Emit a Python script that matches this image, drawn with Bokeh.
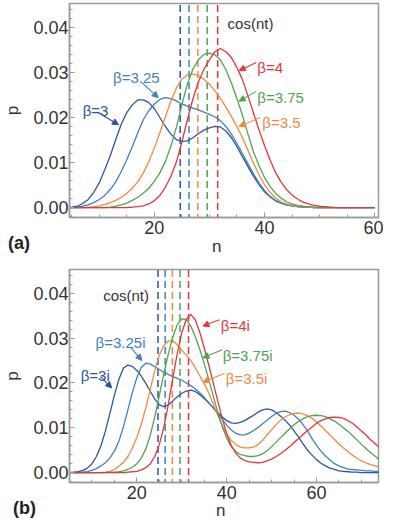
from bokeh.plotting import figure
from bokeh.layouts import column
from bokeh.models import (Range1d, SingleIntervalTicker, PrintfTickFormatter,
                          Label, Arrow, NormalHead, Div)
from bokeh.embed import file_html
from bokeh.resources import INLINE

# ---------------- data ----------------
# panel (a): real beta
n_a = list(range(4, 61))
a_b300 = [0, 0.0001, 0.0003, 0.0009, 0.0018, 0.0034, 0.0055, 0.0084, 0.0115, 0.0151,
          0.0185, 0.0211, 0.0228, 0.0239, 0.0239, 0.0233, 0.0220, 0.0200, 0.0180, 0.0163,
          0.0151, 0.0147, 0.0148, 0.0155, 0.0164, 0.0172, 0.0177, 0.0180, 0.0179, 0.0170,
          0.0155, 0.0135, 0.0113, 0.0091, 0.0070, 0.0051, 0.0035, 0.0024, 0.0015, 0.0010,
          0.0006, 0.0004, 0.0002, 0.0001, 0.0001] + [0] * 12
a_b325 = [0, 0, 0.0001, 0.0003, 0.0006, 0.0011, 0.0018, 0.0027, 0.0040, 0.0057,
          0.0080, 0.0106, 0.0135, 0.0166, 0.0195, 0.0215, 0.0230, 0.0240, 0.0244, 0.0242,
          0.0237, 0.0230, 0.0225, 0.0221, 0.0217, 0.0212, 0.0207, 0.0201, 0.0193, 0.0180,
          0.0163, 0.0142, 0.0120, 0.0097, 0.0075, 0.0055, 0.0038, 0.0025, 0.0016, 0.0010,
          0.0006, 0.0004, 0.0002, 0.0001, 0.0001] + [0] * 12
a_b350 = [0, 0, 0, 0, 0.0001, 0.0002, 0.0004, 0.0007, 0.0011, 0.0016,
          0.0023, 0.0032, 0.0043, 0.0057, 0.0077, 0.0102, 0.0132, 0.0166, 0.0201, 0.0236,
          0.0265, 0.0285, 0.0295, 0.0297, 0.0293, 0.0285, 0.0274, 0.0259, 0.0242, 0.0223,
          0.0202, 0.0180, 0.0155, 0.0127, 0.0099, 0.0073, 0.0051, 0.0034, 0.0022, 0.0013,
          0.0008, 0.0005, 0.0003, 0.0002, 0.0001] + [0] * 12
a_b375 = [0] * 8 + [0.0001, 0.0003, 0.0006, 0.0010, 0.0016, 0.0023, 0.0032, 0.0043,
          0.0058, 0.0077, 0.0102, 0.0136, 0.0178, 0.0228, 0.0274, 0.0307, 0.0328, 0.0340,
          0.0343, 0.0339, 0.0328, 0.0306, 0.0276, 0.0242, 0.0205, 0.0163, 0.0124, 0.0093,
          0.0067, 0.0047, 0.0032, 0.0021, 0.0013, 0.0008, 0.0005, 0.0003, 0.0002,
          0.0001] + [0] * 11
a_b400 = [0] * 12 + [0.0001, 0.0002, 0.0004, 0.0008, 0.0015, 0.0027, 0.0045, 0.0069,
          0.0101, 0.0145, 0.0195, 0.0241, 0.0279, 0.0307, 0.0328, 0.0346, 0.0353, 0.0346,
          0.0333, 0.0311, 0.0284, 0.0248, 0.0210, 0.0173, 0.0138, 0.0106, 0.0078, 0.0057,
          0.0040, 0.0028, 0.0019, 0.0012, 0.0008, 0.0005, 0.0003, 0.0002,
          0.0001] + [0] * 8

# panel (b): imaginary beta
n_b = list(range(4, 76))
b_b300 = [0, 0, 0.0001, 0.0002, 0.0005, 0.0010, 0.0020, 0.0036, 0.0060, 0.0093,
          0.0132, 0.0173, 0.0208, 0.0233, 0.0240, 0.0237, 0.0228, 0.0215, 0.0199, 0.0181,
          0.0164, 0.0151, 0.0147, 0.0151, 0.0160, 0.0169, 0.0177, 0.0182, 0.0184, 0.0181,
          0.0174, 0.0165, 0.0155, 0.0145, 0.0134, 0.0124, 0.0116, 0.0111, 0.0110, 0.0112,
          0.0116, 0.0122, 0.0128, 0.0135, 0.0140, 0.0142, 0.0140, 0.0134, 0.0126, 0.0117,
          0.0106, 0.0093, 0.0079, 0.0064, 0.0050, 0.0039, 0.0029, 0.0021, 0.0015, 0.0010,
          0.0007, 0.0004, 0.0003, 0.0002, 0.0001, 0.0001] + [0] * 6
b_b325 = [0] * 4 + [0.0001, 0.0002, 0.0005, 0.0009, 0.0015, 0.0022, 0.0033, 0.0048,
          0.0070, 0.0102, 0.0140, 0.0179, 0.0212, 0.0235, 0.0244, 0.0242, 0.0236, 0.0230,
          0.0224, 0.0219, 0.0214, 0.0210, 0.0206, 0.0200, 0.0194, 0.0187, 0.0178, 0.0168,
          0.0156, 0.0144, 0.0132, 0.0119, 0.0106, 0.0095, 0.0088, 0.0084, 0.0084, 0.0088,
          0.0094, 0.0101, 0.0109, 0.0117, 0.0125, 0.0132, 0.0136, 0.0137, 0.0134, 0.0128,
          0.0119, 0.0107, 0.0093, 0.0076, 0.0061, 0.0048, 0.0037, 0.0028, 0.0020, 0.0015,
          0.0011, 0.0008, 0.0007, 0.0006, 0.0005, 0.0004, 0.0004, 0.0003, 0.0003, 0.0002]
b_b350 = [0] * 9 + [0.0001, 0.0003, 0.0007, 0.0014, 0.0023, 0.0036, 0.0055, 0.0079,
          0.0109, 0.0145, 0.0187, 0.0228, 0.0262, 0.0283, 0.0294, 0.0294, 0.0285, 0.0273,
          0.0262, 0.0250, 0.0234, 0.0216, 0.0198, 0.0178, 0.0153, 0.0128, 0.0105, 0.0086,
          0.0072, 0.0063, 0.0057, 0.0055, 0.0055, 0.0057, 0.0063, 0.0072, 0.0084, 0.0096,
          0.0107, 0.0117, 0.0124, 0.0129, 0.0132, 0.0133, 0.0131, 0.0127, 0.0121, 0.0113,
          0.0104, 0.0094, 0.0084, 0.0074, 0.0064, 0.0055, 0.0047, 0.0039, 0.0032, 0.0026,
          0.0022, 0.0018, 0.0015, 0.0012, 0.0010]
b_b375 = [0] * 10 + [0.0001, 0.0001, 0.0002, 0.0004, 0.0007, 0.0012, 0.0020, 0.0033,
          0.0053, 0.0084, 0.0125, 0.0172, 0.0220, 0.0265, 0.0302, 0.0330, 0.0343, 0.0341,
          0.0327, 0.0303, 0.0275, 0.0243, 0.0208, 0.0171, 0.0135, 0.0103, 0.0077, 0.0058,
          0.0047, 0.0041, 0.0038, 0.0036, 0.0036, 0.0038, 0.0042, 0.0049, 0.0058, 0.0068,
          0.0078, 0.0088, 0.0098, 0.0107, 0.0114, 0.0120, 0.0125, 0.0127, 0.0128, 0.0127,
          0.0125, 0.0120, 0.0115, 0.0108, 0.0100, 0.0092, 0.0083, 0.0073, 0.0063, 0.0054,
          0.0045, 0.0037, 0.0029, 0.0023]
b_b400 = [0] * 14 + [0.0001, 0.0002, 0.0003, 0.0006, 0.0011, 0.0020, 0.0036, 0.0063,
          0.0101, 0.0152, 0.0210, 0.0266, 0.0312, 0.0342, 0.0353, 0.0341, 0.0313, 0.0278,
          0.0240, 0.0200, 0.0160, 0.0121, 0.0087, 0.0061, 0.0044, 0.0033, 0.0027, 0.0024,
          0.0023, 0.0022, 0.0023, 0.0026, 0.0030, 0.0036, 0.0042, 0.0050, 0.0058, 0.0067,
          0.0076, 0.0085, 0.0094, 0.0102, 0.0110, 0.0116, 0.0120, 0.0123, 0.0124, 0.0123,
          0.0121, 0.0116, 0.0110, 0.0102, 0.0093, 0.0084, 0.0074, 0.0065, 0.0056, 0.0048]

dash_n = [24.7, 26.3, 27.9, 29.6, 31.5]   # vertical dashed markers (cos(nt))

labels_a = ["β=3", "β=3.25", "β=3.5", "β=3.75", "β=4"]
labels_b = ["β=3i", "β=3.25i", "β=3.5i", "β=3.75i", "β=4i"]
colors = ["#2b55a3", "#3b82c4", "#f28a3c", "#4ca64f", "#e8353b"]

FONT = "Liberation Sans"
AXIS_C = "#9a9a9a"
TEXT_C = "#333333"


def make_fig(height, xr, top_border, bottom_border):
    p = figure(width=383, height=height, x_range=Range1d(*xr),
               y_range=Range1d(-0.0022, 0.0453), output_backend="svg",
               toolbar_location=None, tools="",
               min_border_left=65, min_border_right=5,
               min_border_top=top_border, min_border_bottom=bottom_border)
    p.grid.visible = False
    p.outline_line_color = AXIS_C
    p.outline_line_width = 1.5
    p.background_fill_color = "white"
    p.border_fill_color = None
    p.xaxis.ticker = SingleIntervalTicker(interval=20, num_minor_ticks=4)
    p.yaxis.ticker = SingleIntervalTicker(interval=0.01, num_minor_ticks=5)
    p.yaxis.formatter = PrintfTickFormatter(format="%.2f")
    for ax in (p.xaxis[0], p.yaxis[0]):
        ax.axis_line_color = AXIS_C
        ax.axis_line_width = 1.5
        ax.major_tick_line_color = AXIS_C
        ax.minor_tick_line_color = AXIS_C
        ax.major_tick_in = 5
        ax.major_tick_out = 0
        ax.minor_tick_in = 3
        ax.minor_tick_out = 0
        ax.major_label_text_font = FONT
        ax.major_label_text_font_size = "18px"
        ax.major_label_text_color = TEXT_C
        ax.axis_label_text_font = FONT
        ax.axis_label_text_font_size = "17px"
        ax.axis_label_text_font_style = "normal"
        ax.axis_label_text_color = TEXT_C
    p.yaxis.axis_label = "p"
    p.xaxis.major_label_standoff = 3
    p.yaxis.major_label_standoff = 1
    p.yaxis.axis_label_standoff = 8
    return p


def draw(p, n, series):
    for xd, c in zip(dash_n, colors):
        p.segment(x0=[xd], y0=[-0.003], x1=[xd], y1=[0.047],
                  line_color=c, line_width=1.5, line_dash="7 4")
    for ys, c in zip(series, colors):
        p.line(n, ys, line_color=c, line_width=1.3, line_join="round")


def label(p, x, y, text, color):
    p.add_layout(Label(x=x, y=y, text=text, text_color=color, text_font=FONT,
                       text_font_size="15px", text_align="left",
                       text_baseline="alphabetic"))


def arrow(p, xs, ys, xe, ye, color):
    p.add_layout(Arrow(end=NormalHead(size=6, line_color=color, fill_color=color,
                                      line_width=1),
                       x_start=xs, y_start=ys, x_end=xe, y_end=ye,
                       line_color=color, line_width=1.1))


def bottom_row(tag, left, gap, mt, n_drop):
    # panel tag "(a)"/"(b)" and the x-axis title "n" on one line
    html = ('<span style="font-weight:bold;color:#222222;font-size:18px">%s</span>'
            '<span style="font-size:17px;margin-left:%dpx;position:relative;top:%dpx">n</span>'
            % (tag, gap, n_drop))
    return Div(text=html, width=383 - left, height=14, margin=(mt, 0, -mt - 14, left),
               styles={"font-family": FONT, "color": TEXT_C, "line-height": "14px",
                       "white-space": "nowrap", "z-index": "5"})


# ---------------- panel (a) ----------------
pa = make_fig(250, (4.6, 60.7), 3, 33)
draw(pa, n_a, [a_b300, a_b325, a_b350, a_b375, a_b400])
label(pa, 33.3, 0.0409, "cos(nt)", TEXT_C)
label(pa, 7.0, 0.0216, labels_a[0], colors[0])
arrow(pa, 9.8, 0.0211, 13.5, 0.0184, colors[0])
label(pa, 12.5, 0.0289, labels_a[1], colors[1])
arrow(pa, 17.7, 0.0278, 20.7, 0.0244, colors[1])
label(pa, 39.6, 0.0189, labels_a[2], colors[2])
arrow(pa, 39.2, 0.0200, 35.4, 0.0180, colors[2])
label(pa, 38.7, 0.0244, labels_a[3], colors[3])
arrow(pa, 38.5, 0.0258, 35.4, 0.0236, colors[3])
label(pa, 38.7, 0.0311, labels_a[4], colors[4])
arrow(pa, 38.5, 0.0322, 35.4, 0.0304, colors[4])

# ---------------- panel (b) ----------------
pb = make_fig(270, (5.0, 73.8), 19, 38)
draw(pb, n_b, [b_b300, b_b325, b_b350, b_b375, b_b400])
label(pb, 12.5, 0.0395, "cos(nt)", TEXT_C)
label(pb, 7.5, 0.0217, labels_b[0], colors[0])
arrow(pb, 11.9, 0.0214, 14.4, 0.0189, colors[0])
label(pb, 10.8, 0.0290, labels_b[1], colors[1])
arrow(pb, 18.7, 0.0279, 21.1, 0.0250, colors[1])
label(pb, 39.8, 0.0210, labels_b[2], colors[2])
arrow(pb, 39.5, 0.0221, 34.7, 0.0202, colors[2])
label(pb, 39.1, 0.0262, labels_b[3], colors[3])
arrow(pb, 39.0, 0.0274, 34.7, 0.0256, colors[3])
label(pb, 38.7, 0.0328, labels_b[4], colors[4])
arrow(pb, 38.4, 0.0341, 34.7, 0.0327, colors[4])

layout = column(pa, bottom_row("(a)", 8, 182, -14, 3),
                pb, bottom_row("(b)", 13, 180, -19, 2))
open("out.html", "w").write(file_html(layout, INLINE))
